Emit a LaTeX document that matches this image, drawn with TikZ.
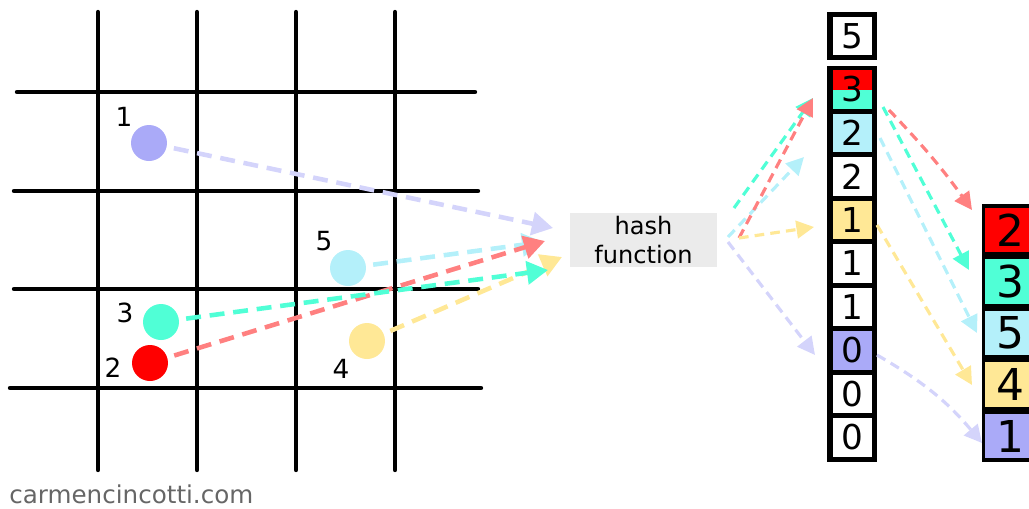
\documentclass[tikz,border=0pt]{standalone}
\usepackage{fontspec}
\setmainfont{DejaVu Sans}
\usetikzlibrary{arrows.meta,positioning}
\definecolor{ptlav}{HTML}{AAAAF8}
\definecolor{ptred}{HTML}{FF0000}
\definecolor{ptteal}{HTML}{50FFD6}
\definecolor{ptyel}{HTML}{FFE896}
\definecolor{ptblue}{HTML}{B4F0FA}
\definecolor{arrlav}{HTML}{D4D4FB}
\definecolor{arrred}{HTML}{FF8080}
\definecolor{hashgrey}{HTML}{EBEBEB}
\definecolor{markgrey}{HTML}{666666}
\tikzset{
  gridln/.style={line width=2.5pt, line cap=round, black},
  dot/.style={circle, minimum size=0.72cm, inner sep=0pt},
  dotlab/.style={font=\fontsize{15}{17}\selectfont, inner sep=0pt},
  hashbox/.style={fill=hashgrey, minimum width=2.94cm, minimum height=1.08cm, align=center, inner sep=0pt,
                  font=\fontsize{13.7}{17}\selectfont},
  cellm/.style={minimum width=0.78cm, minimum height=0.77cm, inner sep=0pt, font=\fontsize{19.5}{20}\selectfont},
  cellr/.style={minimum width=1.0cm, minimum height=0.89cm, inner sep=0pt, font=\fontsize{25}{26}\selectfont},
  harr/.style={line width=2.6pt, dash pattern=on 8.5pt off 5pt, shorten <=4pt, -{Triangle[length=12pt, width=13pt]}},
  rarr/.style={line width=1.8pt, dash pattern=on 5.5pt off 3.5pt, -{Triangle[length=10pt, width=10pt]}},
}
\begin{document}
\begin{tikzpicture}[x=0.02cm, y=-0.02cm]
  \useasboundingbox (0,0) rectangle (1029,508);
  \clip (0,0) rectangle (1029,508);
  % the grid with its five points
  \foreach \x in {98,197,296,395} \draw[gridln] (\x,12) -- (\x,470);
  \foreach \y/\a/\b in {92/17/475,191/14/478,289/14/478,388/10/481} \draw[gridln] (\a,\y) -- (\b,\y);
  \node[dot, fill=ptlav] (p1) at (149,143) {};
  \node[dot, fill=ptred] (p2) at (150,363) {};
  \node[dot, fill=ptteal] (p3) at (161,322) {};
  \node[dot, fill=ptyel] (p4) at (367,341) {};
  \node[dot, fill=ptblue] (p5) at (348,268) {};
  \node[dotlab] (l1) at (124,117) {1};
  \node[dotlab] (l2) at (113,368) {2};
  \node[dotlab] (l3) at (125,313) {3};
  \node[dotlab] (l4) at (341,369) {4};
  \node[dotlab] (l5) at (324,241) {5};
  % hash function
  \node[hashbox] (hash) at (643.5,240) {hash\\function};
  % cell counts
  \fill (827,12) rectangle (877,60);
  \node[cellm, fill=white] (total) at (852.5,36) {5};
  \fill (827,66) rectangle (877,462);
  \node[cellm, path picture={
      \fill[ptred] (path picture bounding box.north west) rectangle (path picture bounding box.east);
      \fill[ptteal] (path picture bounding box.west) rectangle (path picture bounding box.south east);}]
    (m0) at (852.5,89.5) {3};
  \foreach \v/\c [count=\i from 1] in {2/ptblue,2/white,1/ptyel,1/white,1/white,0/ptlav,0/white,0/white}
    \node[cellm, fill=\c] (m\i) at (852.5,89.5+43.5*\i) {\v};
  % sorted points
  \fill (982,204) rectangle (1045,462);
  \foreach \v/\c [count=\i from 0] in {2/ptred,3/ptteal,5/ptblue,4/ptyel,1/ptlav}
    \node[cellr, fill=\c] (r\i) at (1010,230+51.5*\i) {\v};
  % points into the hash function
  \coordinate (h1) at (553,228);
  \coordinate (h2) at (545,241);
  \coordinate (h3) at (548,270);
  \coordinate (h4) at (562,257);
  \coordinate (h5) at (543,242);
  \draw[harr, arrlav] (p1) -- (h1);
  \draw[harr, ptblue] (p5) -- (h5);
  \draw[harr, arrred] (p2) -- (h2);
  \draw[harr, ptyel] (p4) -- (h4);
  \draw[harr, ptteal] (p3) -- (h3);
  % hash function to cells
  \coordinate (o3) at (734,208);
  \coordinate (o2) at (739,238);
  \coordinate (o5) at (728,237);
  \coordinate (o4) at (739,238);
  \coordinate (o1) at (728,242);
  \coordinate (t0) at (813,98);
  \coordinate (t1) at (804,157);
  \coordinate (t3) at (814,227);
  \coordinate (t6) at (815,355);
  \draw[rarr, ptteal] (o3) -- (t0);
  \draw[rarr, ptblue] (o5) -- (t1);
  \draw[rarr, arrred] (o2) -- (t0);
  \draw[rarr, ptyel] (o4) -- (t3);
  \draw[rarr, arrlav] (o1) -- (t6);
  % cells to sorted points
  \coordinate (s2) at (889,110);
  \coordinate (s3) at (883,107);
  \coordinate (s5) at (880,138);
  \coordinate (s4) at (877,225);
  \coordinate (s1) at (877,355);
  \coordinate (e2) at (972,210);
  \coordinate (e3) at (969,270);
  \coordinate (e5) at (977,333);
  \coordinate (e4) at (972,385);
  \coordinate (e1) at (982,443);
  \draw[rarr, arrred] (s2) to[bend left=4] (e2);
  \draw[rarr, ptteal] (s3) -- (e3);
  \draw[rarr, ptblue] (s5) -- (e5);
  \draw[rarr, ptyel] (s4) -- (e4);
  \draw[rarr, arrlav] (s1) to[bend left=10] (e1);
  \node[anchor=base west, text=markgrey, font=\fontsize{14}{16}\selectfont, inner sep=0pt] (mark) at (9,503) {carmencincotti.com};
\end{tikzpicture}
\end{document}
